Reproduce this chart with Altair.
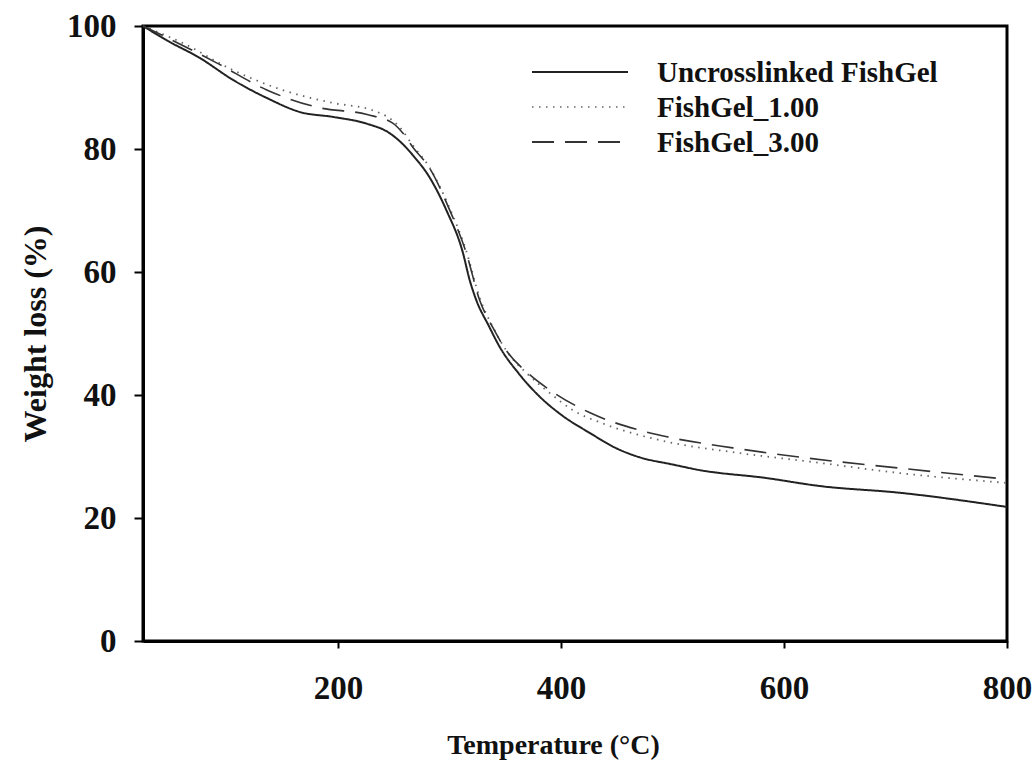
import altair as alt
import pandas as pd

# ---- data ----
series_names = ["Uncrosslinked FishGel", "FishGel_1.00", "FishGel_3.00"]

T_uncross = [25, 46, 76, 106, 136, 166, 196, 226, 246, 258, 267, 282, 297, 312, 318, 324, 335, 345, 362, 381, 400, 426, 450, 470, 500, 524, 584, 632, 704, 800]
W_uncross = [100, 97.7, 94.8, 91.2, 88.3, 86.0, 85.2, 84.1, 82.6, 80.8, 79.0, 75.4, 70.1, 63.1, 58.7, 55.4, 51.3, 47.8, 43.5, 39.7, 36.8, 33.8, 31.3, 29.9, 28.7, 27.8, 26.5, 25.2, 24.1, 21.8]

T_fg1 = [25, 61, 106, 150, 195, 231, 255, 267, 282, 300, 315, 327, 339, 351, 370, 390, 410, 440, 470, 495, 554, 626, 704, 800]
W_fg1 = [100, 97.2, 92.8, 89.6, 87.5, 86.3, 83.6, 80.6, 77.0, 70.4, 63.4, 55.8, 51.0, 47.2, 43.4, 40.3, 37.6, 35.2, 33.5, 32.4, 30.7, 29.1, 27.3, 25.7]

T_fg3 = [25, 50, 91, 136, 181, 226, 249, 258, 267, 282, 300, 315, 327, 339, 351, 370, 390, 426, 470, 495, 554, 614, 704, 800]
W_fg3 = [100, 97.8, 94.0, 89.6, 86.8, 85.6, 84.2, 82.6, 80.3, 76.9, 70.1, 63.1, 55.4, 50.9, 47.2, 43.6, 40.8, 37.1, 34.3, 33.2, 31.4, 29.9, 28.1, 26.3]

x_ticks = [200, 400, 600, 800]
y_ticks = [0, 20, 40, 60, 80, 100]

rows = []
for name, ts, ws in zip(series_names, [T_uncross, T_fg1, T_fg3], [W_uncross, W_fg1, W_fg3]):
    for t, w in zip(ts, ws):
        rows.append({"series": name, "T": t, "W": w})
df = pd.DataFrame(rows)

FONT = "Liberation Serif"
dash_range = [[1, 0], [1.5, 5.5], [22, 11]]
color_range = ["#222222", "#666666", "#333333"]
width_range = [2, 1.6, 2]

lines = alt.Chart(df).mark_line(interpolate="monotone").encode(
    x=alt.X("T:Q", scale=alt.Scale(domain=[25, 800], nice=False, zero=False),
            axis=alt.Axis(values=x_ticks, title="Temperature (°C)", labelFlush=False,
                          labelOverlap=False, tickSize=7, labelPadding=50,
                          labelBaseline="alphabetic", titleX=410, titleY=112,
                          titleBaseline="alphabetic", titleFontSize=28, labelFontSize=33)),
    y=alt.Y("W:Q", scale=alt.Scale(domain=[0, 100], nice=False),
            axis=alt.Axis(values=y_ticks, title="Weight loss (%)", tickSize=9,
                          labelPadding=18, titleX=-98, titleY=307.5,
                          titleBaseline="alphabetic", titleFontSize=32, labelFontSize=33)),
    detail="series:N",
    strokeDash=alt.StrokeDash("series:N", scale=alt.Scale(domain=series_names, range=dash_range), legend=None),
    color=alt.Color("series:N", scale=alt.Scale(domain=series_names, range=color_range), legend=None),
    strokeWidth=alt.StrokeWidth("series:N", scale=alt.Scale(domain=series_names, range=width_range), legend=None),
)

# manual legend
legend_layers = []
leg_y = [46, 81, 116]
for i, name in enumerate(series_names):
    ldf = pd.DataFrame({"series": [name]})
    legend_layers.append(
        alt.Chart(ldf).mark_rule(color=color_range[i], strokeWidth=width_range[i],
                                 strokeDash=dash_range[i]).encode(
            x=alt.value(389), x2=alt.value(485), y=alt.value(leg_y[i]))
    )
    legend_layers.append(
        alt.Chart(ldf).mark_text(align="left", baseline="middle", font=FONT,
                                 fontWeight="bold", fontSize=29, color="#111111").encode(
            x=alt.value(514), y=alt.value(leg_y[i] + 1), text="series:N")
    )

chart = alt.layer(lines, *legend_layers).properties(
    width=864, height=615,
    autosize=alt.AutoSizeParams(type="none"),
    padding={"left": 143, "top": 26, "right": 29, "bottom": 133},
).configure_view(
    stroke="black", strokeWidth=3
).configure_axis(
    grid=False, domainColor="black", domainWidth=3, tickColor="black", tickWidth=2,
    labelFont=FONT, titleFont=FONT, labelFontWeight="bold", titleFontWeight="bold",
    labelColor="#111111", titleColor="#111111",
)

chart.save("out.html", embed_options={"renderer": "svg", "actions": False})
